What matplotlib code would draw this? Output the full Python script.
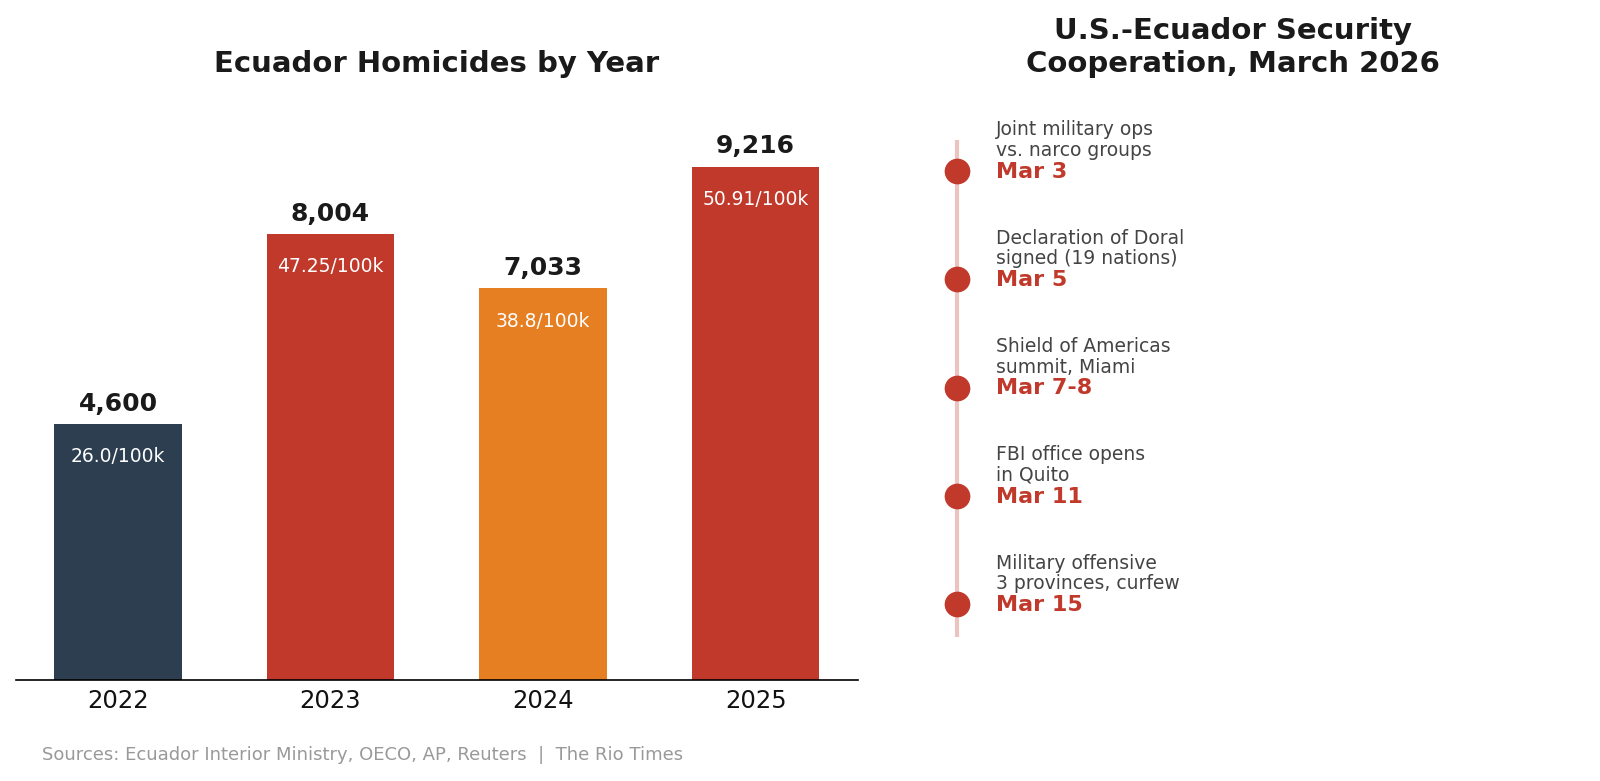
import matplotlib
matplotlib.use('Agg')
import matplotlib.pyplot as plt

# data
years = ['2022', '2023', '2024', '2025']
homicides = [4600, 8004, 7033, 9216]
rates = [26.0, 47.25, 38.8, 50.91]
bar_colors = ['#2c3e50', '#c0392b', '#e67e22', '#c0392b']

event_dates = ['Mar 3', 'Mar 5', 'Mar 7-8', 'Mar 11', 'Mar 15']
event_texts = ['Joint military ops\nvs. narco groups',
               'Declaration of Doral\nsigned (19 nations)',
               'Shield of Americas\nsummit, Miami',
               'FBI office opens\nin Quito',
               'Military offensive\n3 provinces, curfew']

RED = '#c0392b'

plt.rcParams['font.family'] = ['DejaVu Sans']
fig = plt.figure(figsize=(16, 7.81), dpi=100)

# 左侧柱状图
ax1 = fig.add_axes([0.01, 0.129, 0.526, 0.756])
x = range(len(years))
bars = ax1.bar(x, homicides, width=0.6, color=bar_colors)
ax1.set_ylim(0, max(homicides) * 1.15)
ax1.set_xticks(list(x))
ax1.set_xticklabels(years, fontsize=17.5, color='#111111')
ax1.tick_params(axis='x', length=0, pad=6)
ax1.set_yticks([])
for s in ['top', 'right', 'left']:
    ax1.spines[s].set_visible(False)
ax1.spines['bottom'].set_linewidth(1.2)
ax1.set_title('Ecuador Homicides by Year', fontsize=21, fontweight='bold',
              color='#1a1a1a', pad=13)

for b, val, r in zip(bars, homicides, rates):
    cx = b.get_x() + b.get_width() / 2
    ax1.annotate(f'{val:,}', (cx, val), xytext=(0, 6), textcoords='offset points',
                 ha='center', va='bottom', fontsize=18, fontweight='bold', color='#1a1a1a')
    ax1.annotate(f'{r}/100k', (cx, val), xytext=(0, -23.5), textcoords='offset points',
                 ha='center', va='center', fontsize=13.5, color='white')

# 右侧时间线
ax2 = fig.add_axes([0.5625, 0.129, 0.416, 0.756])
ax2.set_xlim(0, 1)
ax2.set_ylim(4.70, -0.75)
ax2.axis('off')
ax2.set_title('U.S.-Ecuador Security\nCooperation, March 2026', fontsize=21,
              fontweight='bold', color='#1a1a1a', pad=13)

lx = 0.0856
ax2.plot([lx, lx], [-0.29, len(event_dates) - 1 + 0.3], color=RED, alpha=0.3,
         linewidth=3, solid_capstyle='butt', zorder=1)
for i, (d, t) in enumerate(zip(event_dates, event_texts)):
    ax2.plot(lx, i, 'o', color=RED, markersize=17.5, zorder=3)
    ax2.annotate(d, (0.144, i), xytext=(0, -0.5), textcoords='offset points',
                 ha='left', va='center', fontsize=16, fontweight='bold', color=RED)
    ax2.annotate(t, (0.144, i), xytext=(0, 8), textcoords='offset points',
                 ha='left', va='bottom', fontsize=13.5, color='#444444', linespacing=1.1)

fig.text(0.026, 0.033, 'Sources: Ecuador Interior Ministry, OECO, AP, Reuters  |  The Rio Times',
         fontsize=13, color='#999999', va='center', ha='left')

fig.savefig('out.png', dpi=100, facecolor='white')
